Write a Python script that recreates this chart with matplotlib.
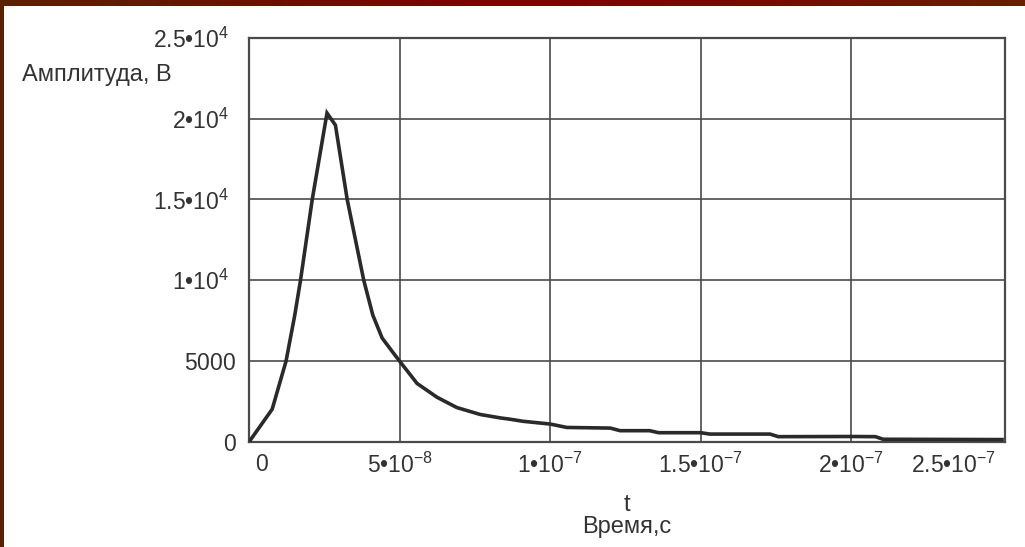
import numpy as np
import matplotlib
matplotlib.use("Agg")
import matplotlib.pyplot as plt
import matplotlib.transforms as mtransforms
from matplotlib.colors import LinearSegmentedColormap

# ---- data ----
time_s = [0, 7.7e-9, 12.3e-9, 15.2e-9, 17.1e-9, 21.0e-9, 25.9e-9, 28.7e-9, 32.6e-9,
          38.1e-9, 41.1e-9, 44.2e-9, 47.5e-9, 50.0e-9, 55.8e-9, 62.4e-9, 69.0e-9,
          76.8e-9, 83.4e-9, 87.0e-9, 91.0e-9, 100.0e-9, 105.5e-9, 120.0e-9, 123.2e-9,
          133.0e-9, 136.0e-9, 150.0e-9, 153.0e-9, 173.0e-9, 175.7e-9, 200.0e-9,
          208.0e-9, 210.5e-9, 250.0e-9]
amplitude_v = [0, 2030, 5000, 7850, 10000, 15000, 20340, 19590, 15000,
               10000, 7850, 6430, 5610, 5000, 3620, 2770, 2130,
               1700, 1490, 1400, 1280, 1110, 900, 860, 700,
               700, 575, 575, 490, 490, 330, 340,
               330, 170, 150]

x_ticks = [0, 5e-8, 1e-7, 1.5e-7, 2e-7, 2.5e-7]
x_tick_labels = [r"$\mathregular{0}$", r"$\mathregular{5•10^{-8}}$", r"$\mathregular{1•10^{-7}}$",
                 r"$\mathregular{1.5•10^{-7}}$", r"$\mathregular{2•10^{-7}}$", r"$\mathregular{2.5•10^{-7}}$"]
y_ticks = [0, 5000, 10000, 15000, 20000, 25000]
y_tick_labels = [r"$\mathregular{0}$", r"$\mathregular{5000}$", r"$\mathregular{1•10^{4}}$",
                 r"$\mathregular{1.5•10^{4}}$", r"$\mathregular{2•10^{4}}$", r"$\mathregular{2.5•10^{4}}$"]
x_grid = [5e-8, 1e-7, 1.5e-7, 2e-7]
y_grid = [5000, 10000, 15000, 20000]

plt.rcParams['font.family'] = ['Liberation Sans', 'DejaVu Sans']
plt.rcParams['mathtext.fontset'] = 'custom'
plt.rcParams['mathtext.rm'] = 'Liberation Sans'
plt.rcParams['mathtext.it'] = 'Liberation Sans:italic'
plt.rcParams['mathtext.bf'] = 'Liberation Sans:bold'

W, H = 1025, 547
fig = plt.figure(figsize=(W / 100, H / 100), dpi=100)
fig.patch.set_facecolor('white')

L, R, T, B = 249, 1005, 37.7, 442
ax = fig.add_axes([L / W, 1 - B / H, (R - L) / W, (B - T) / H])

line_col = '#2a2a2a'
grid_col = '#4a4a4a'
text_col = '#333333'
fs_tick = 16.5
fs_lab = 17

for xv in x_grid:
    ax.axvline(xv, color=grid_col, lw=1.2, zorder=1)
for yv in y_grid:
    ax.axhline(yv, color=grid_col, lw=1.2, zorder=1)

ax.plot(time_s, amplitude_v, color=line_col, lw=2.6, zorder=3, solid_joinstyle='miter')

ax.set_xlim(0, 2.51e-7)
ax.set_ylim(0, 25000)

for s in ax.spines.values():
    s.set_color(grid_col)
    s.set_linewidth(1.6)

ax.set_xticks(x_ticks)
ax.set_xticklabels(x_tick_labels, fontsize=fs_tick, color=text_col)
ax.set_yticks(y_ticks)
ax.set_yticklabels(y_tick_labels, fontsize=fs_tick, color=text_col)
ax.tick_params(axis='both', length=0)
ax.tick_params(axis='x', pad=8)
ax.tick_params(axis='y', pad=9)

# shift edge x labels inward, and exponent y labels left
xl = ax.get_xticklabels()
xl[0].set_ha('left')
xl[0].set_transform(xl[0].get_transform() + mtransforms.ScaledTranslation(6 / 100, 0, fig.dpi_scale_trans))
xl[-1].set_ha('right')
xl[-1].set_transform(xl[-1].get_transform() + mtransforms.ScaledTranslation(-6 / 100, 0, fig.dpi_scale_trans))
yl = ax.get_yticklabels()
for lab in yl[2:]:
    lab.set_transform(lab.get_transform() + mtransforms.ScaledTranslation(-8 / 100, 0, fig.dpi_scale_trans))

ax.set_ylabel("Амплитуда, В", rotation=0, ha='left', va='center', fontsize=fs_lab, color=text_col)
ax.yaxis.set_label_coords((22 - L) / (R - L), (B - 75) / (B - T))
ax.set_xlabel("t\nВремя,с", ha='center', va='center', fontsize=fs_lab, color=text_col, linespacing=0.95)
ax.xaxis.set_label_coords(0.5, (B - 516) / (B - T))

# decorative slide border (top and left strips)
cmap = LinearSegmentedColormap.from_list('brd', ['#5a2200', '#6e1000', '#820000', '#7a0a00', '#6a1e00'])
bax = fig.add_axes([0, 1 - 6 / H, 1, 6 / H])
bax.imshow(np.linspace(0, 1, 256)[None, :], aspect='auto', cmap=cmap, extent=[0, 1, 0, 1])
bax.axis('off')
lax = fig.add_axes([0, 0, 4 / W, 1 - 6 / H])
lax.set_facecolor('#5a2000')
lax.set_xticks([]); lax.set_yticks([])
for s in lax.spines.values():
    s.set_visible(False)

fig.savefig('out.png', dpi=100, facecolor='white')
